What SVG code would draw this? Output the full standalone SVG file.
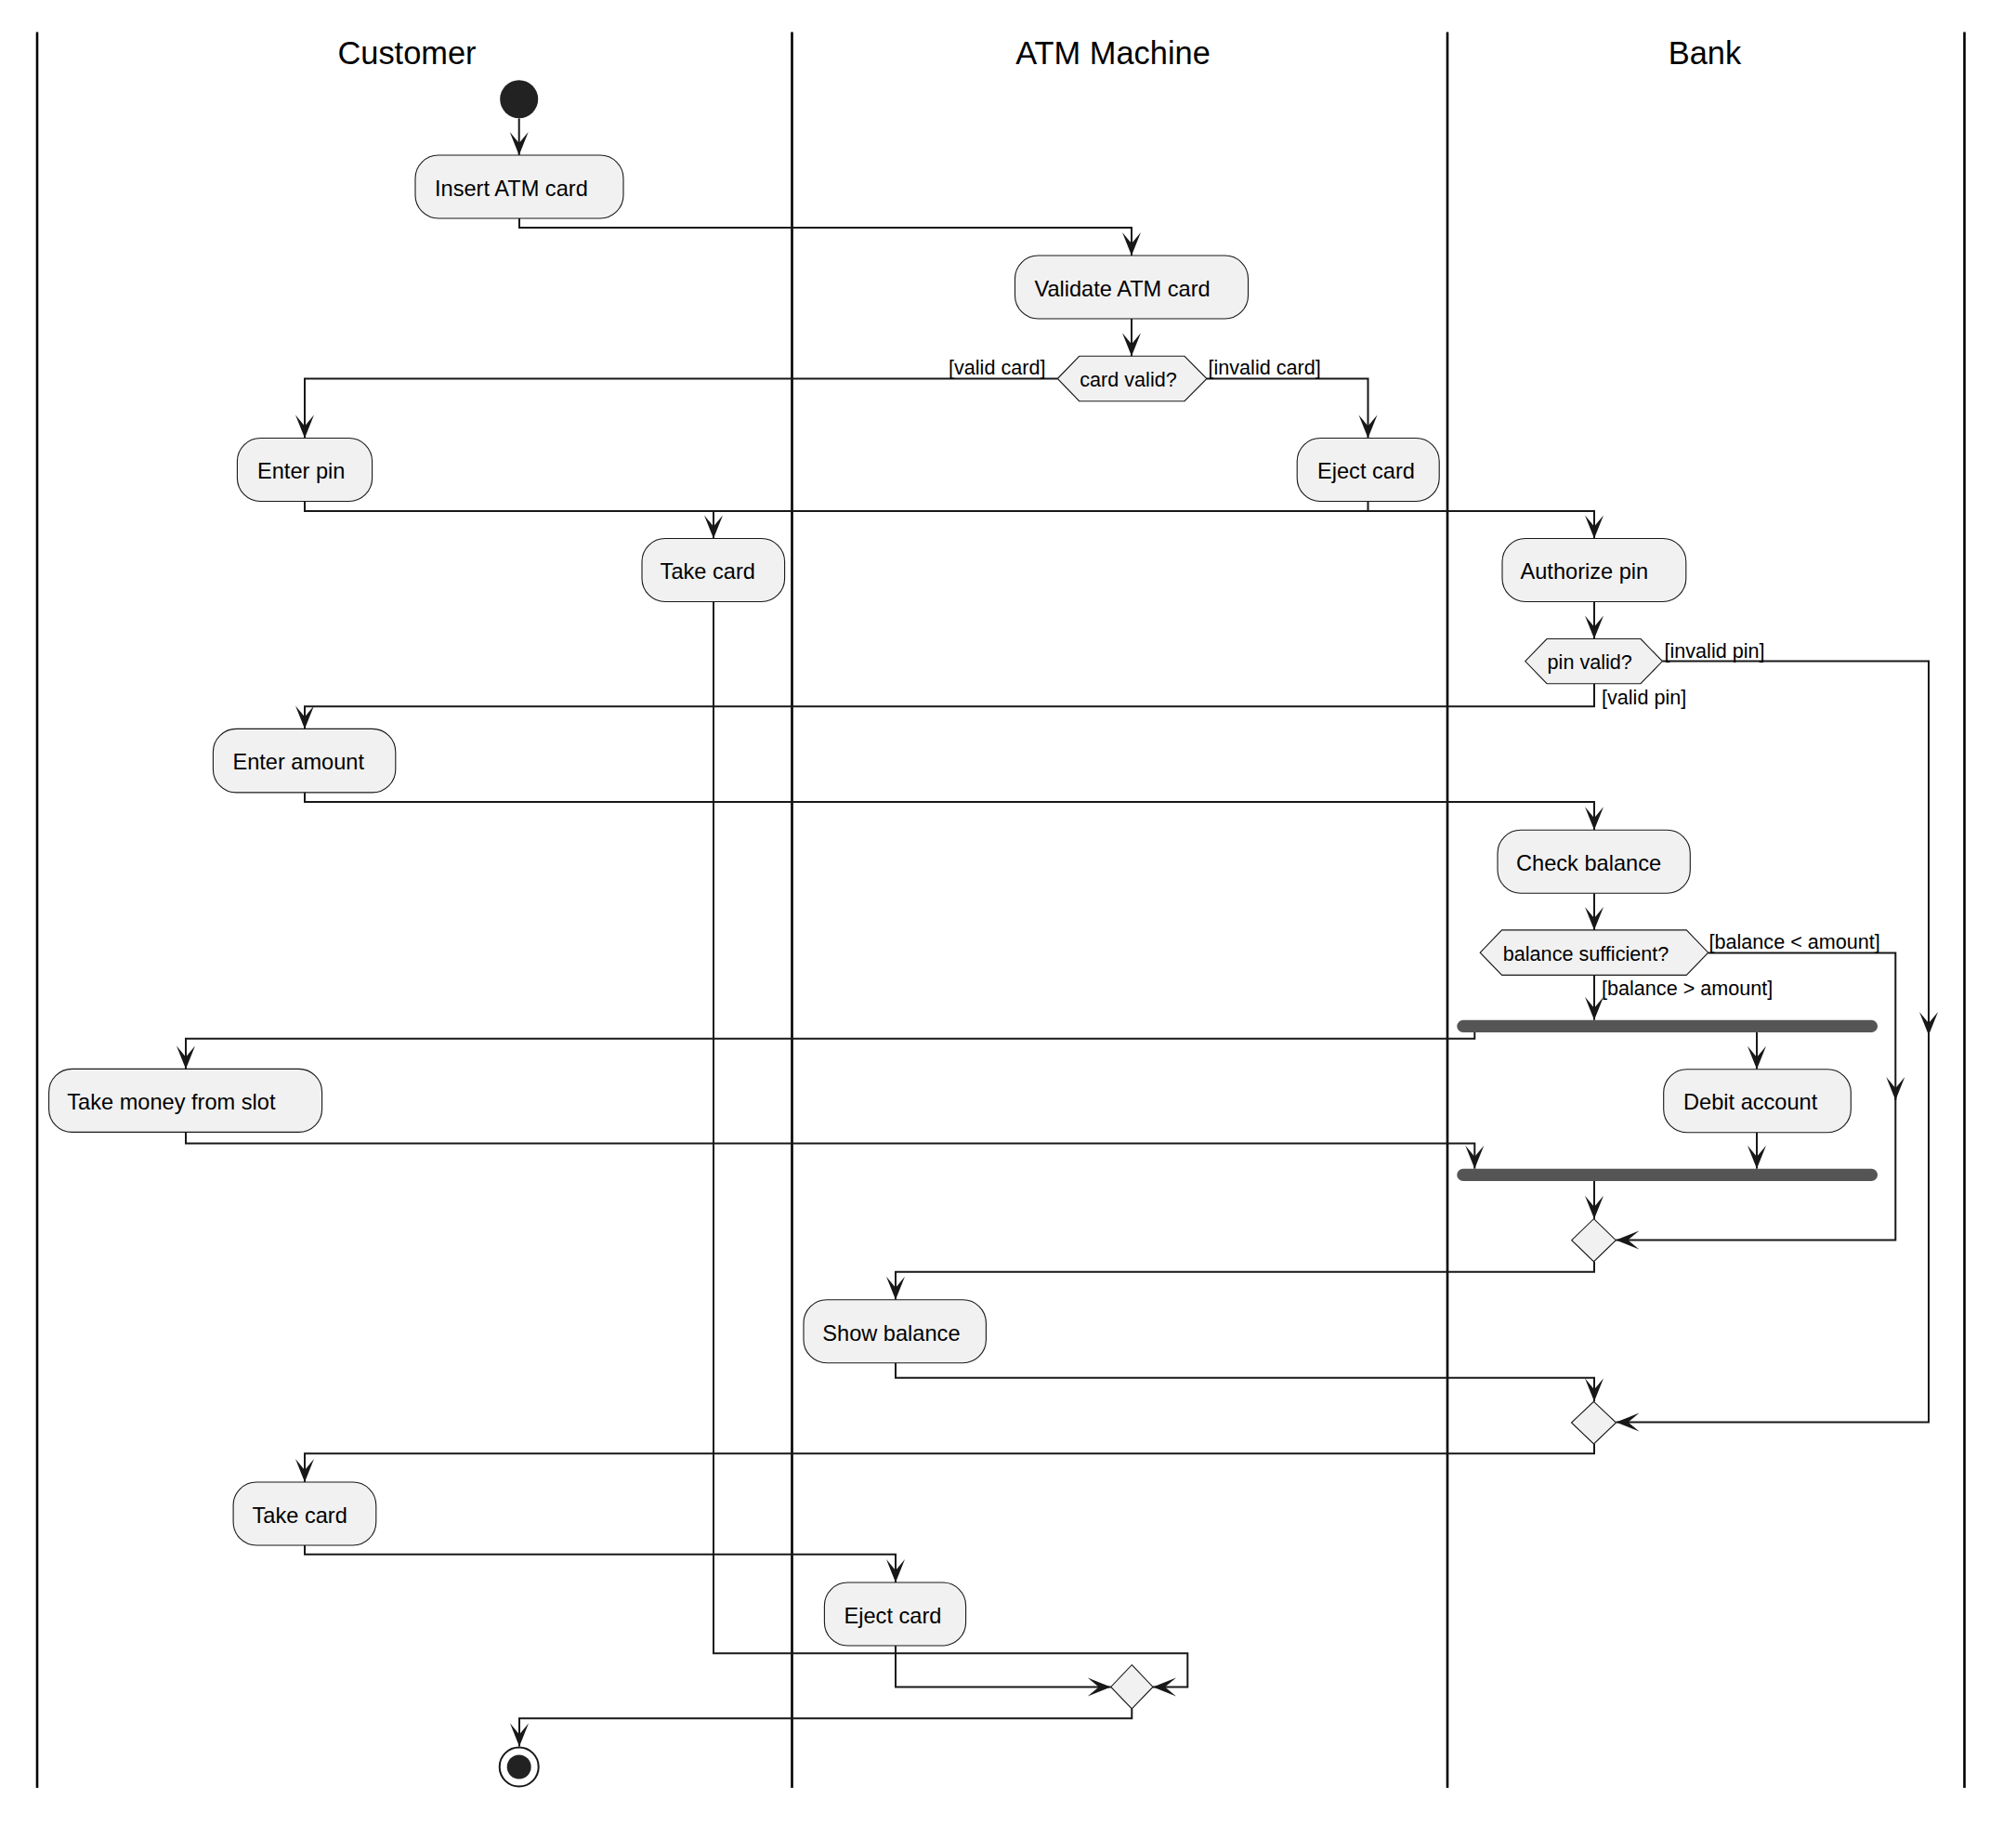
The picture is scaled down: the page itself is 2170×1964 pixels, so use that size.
<svg xmlns="http://www.w3.org/2000/svg" width="2170" height="1964" viewBox="0 0 2170 1964">
<style>
.lane{stroke:#000;stroke-width:2.6;fill:none}
.title{font-family:"Liberation Sans",Arial,sans-serif;font-size:34.4px;fill:#000;text-anchor:middle}
.act rect{fill:#F1F1F1;stroke:#181818;stroke-width:1.1}
.act text,.hex text{font-family:"Liberation Sans",Arial,sans-serif;font-size:23.6px;fill:#000}
.hex polygon,.merge polygon{fill:#F1F1F1;stroke:#181818;stroke-width:1.1}
.hex text{font-size:21.6px}
.lbl{font-family:"Liberation Sans",Arial,sans-serif;font-size:21.6px;fill:#000}
.bar{fill:#555555}
#connectors path{fill:none;stroke:#181818;stroke-width:2}
.arr{marker-end:url(#ah)}
</style>
<defs>
<marker id="ah" markerUnits="userSpaceOnUse" viewBox="-26 -11 27 22" refX="0" refY="0" markerWidth="27" markerHeight="22" orient="auto">
<path d="M0,0 L-25,-10 L-13,0 L-25,10 Z" fill="#181818"/>
</marker>
</defs>
<rect width="2170" height="1964" fill="#FFFFFF"/>

<g id="lanes">
<line class="lane" x1="40" y1="34.5" x2="40" y2="1924"/>
<line class="lane" x1="852.5" y1="34.5" x2="852.5" y2="1924"/>
<line class="lane" x1="1558" y1="34.5" x2="1558" y2="1924"/>
<line class="lane" x1="2114.5" y1="34.5" x2="2114.5" y2="1924"/>
<text class="title" x="438" y="69">Customer</text>
<text class="title" x="1198" y="69">ATM Machine</text>
<text class="title" x="1835" y="69">Bank</text>
</g>

<g id="connectors">
<path class="arr" d="M558.7,127.4 V167"/>
<path class="arr" d="M559,235 V245 H1218 V275"/>
<path class="arr" d="M1218,343 V383.3"/>
<path class="arr" d="M1138.3,407.5 H328 V471.5"/>
<path class="arr" d="M1299,407.5 H1472.5 V471.5"/>
<path class="arr" d="M328,539.5 V550 H1716 V579.5"/>
<path class="arr" d="M1472.5,539.5 V550 H768 V579.5"/>
<path class="arr" d="M1716,647.5 V687.5"/>
<path class="arr" d="M1716,735.7 V760.3 H328 V784.4"/>
<path class="arr" d="M1789.4,711.6 H2076 V1114"/>
<path class="arr" d="M2076,1110 V1530.6 H1739.5"/>
<path class="arr" d="M328,852.9 V863 H1716 V893.3"/>
<path class="arr" d="M1716,961.3 V1000.9"/>
<path class="arr" d="M1716,1049 V1097.7"/>
<path class="arr" d="M1838.7,1025.4 H2040.3 V1184"/>
<path class="arr" d="M2040.3,1180 V1334.5 H1739.3"/>
<path class="arr" d="M1587.3,1111 V1117.7 H200 V1150.4"/>
<path class="arr" d="M1891,1111 V1150.7"/>
<path class="arr" d="M200,1218.5 V1230.6 H1587.3 V1257.7"/>
<path class="arr" d="M1891,1218.5 V1257.7"/>
<path class="arr" d="M1716,1271 V1311.7"/>
<path class="arr" d="M1716,1357.7 V1368.7 H964 V1398.7"/>
<path class="arr" d="M964,1466.7 V1482.8 H1716 V1508.3"/>
<path class="arr" d="M1716,1554 V1564.3 H328 V1595"/>
<path class="arr" d="M328,1663 V1672.8 H964 V1703"/>
<path class="arr" d="M964,1771 V1815.4 H1195.7"/>
<path class="arr" d="M768,647.5 V1779.3 H1278.3 V1815.4 H1241"/>
<path class="arr" d="M1218.3,1839 V1849.3 H559 V1879.5"/>
</g>

<g id="start"><circle cx="558.7" cy="106.7" r="20.5" fill="#222222"/></g>
<g id="end"><circle cx="558.7" cy="1901.5" r="21" fill="none" stroke="#181818" stroke-width="2"/><circle cx="558.7" cy="1901.5" r="13" fill="#222222"/></g>

<g id="insert-card" class="act"><rect x="447" y="167" width="224" height="68" rx="25"/><text x="468" y="210.5">Insert ATM card</text></g>
<g id="validate-card" class="act"><rect x="1092.5" y="275" width="251" height="68" rx="25"/><text x="1113.4" y="318.5">Validate ATM card</text></g>
<g id="card-valid" class="hex"><polygon points="1138.3,407.5 1161.7,383.3 1275,383.3 1299,407.5 1275,431.7 1161.7,431.7"/><text x="1162.3" y="415.7">card valid?</text></g>
<g id="enter-pin" class="act"><rect x="255.4" y="471.5" width="145.2" height="68" rx="25"/><text x="277" y="515">Enter pin</text></g>
<g id="eject-card-1" class="act"><rect x="1396.2" y="471.5" width="153" height="68" rx="25"/><text x="1418" y="515">Eject card</text></g>
<g id="take-card-1" class="act"><rect x="691" y="579.5" width="153.6" height="68" rx="25"/><text x="710.6" y="623">Take card</text></g>
<g id="authorize-pin" class="act"><rect x="1617" y="579.5" width="197.8" height="68" rx="25"/><text x="1636.5" y="623">Authorize pin</text></g>
<g id="pin-valid" class="hex"><polygon points="1641.7,711.6 1665,687.5 1766,687.5 1789.4,711.6 1766,735.7 1665,735.7"/><text x="1665.6" y="720">pin valid?</text></g>
<g id="enter-amount" class="act"><rect x="229.4" y="784.4" width="196.4" height="68.5" rx="25"/><text x="250.4" y="828">Enter amount</text></g>
<g id="check-balance" class="act"><rect x="1612" y="893.3" width="207.3" height="68" rx="25"/><text x="1632" y="937">Check balance</text></g>
<g id="balance-sufficient" class="hex"><polygon points="1593.2,1025.2 1616.6,1000.9 1815.3,1000.9 1838.7,1025.2 1815.3,1049.4 1616.6,1049.4"/><text x="1617.8" y="1033.5">balance sufficient?</text></g>
<g id="fork"><rect class="bar" x="1568.3" y="1097.7" width="452.7" height="13.3" rx="6.6"/></g>
<g id="take-money" class="act"><rect x="52.6" y="1150.4" width="294" height="68" rx="25"/><text x="72.3" y="1194">Take money from slot</text></g>
<g id="debit-account" class="act"><rect x="1790.7" y="1150.7" width="201.6" height="68" rx="25"/><text x="1812" y="1194">Debit account</text></g>
<g id="join"><rect class="bar" x="1568.3" y="1257.7" width="452.7" height="13.3" rx="6.6"/></g>
<g id="merge-1" class="merge"><polygon points="1715.5,1311.7 1739.3,1334.7 1715.5,1357.7 1691.7,1334.7"/></g>
<g id="show-balance" class="act"><rect x="865" y="1398.7" width="196.4" height="68" rx="25"/><text x="885.3" y="1443">Show balance</text></g>
<g id="merge-2" class="merge"><polygon points="1715.5,1508.3 1739.5,1531 1715.5,1554 1691.5,1531"/></g>
<g id="take-card-2" class="act"><rect x="251.1" y="1595" width="153.7" height="68" rx="25"/><text x="271.5" y="1638.5">Take card</text></g>
<g id="eject-card-2" class="act"><rect x="887.4" y="1703" width="152.2" height="68" rx="25"/><text x="908.5" y="1746.5">Eject card</text></g>
<g id="merge-3" class="merge"><polygon points="1218.3,1791.7 1241,1815.4 1218.3,1839 1195.7,1815.4"/></g>

<g id="labels">
<text class="lbl" x="1021" y="403">[valid card]</text>
<text class="lbl" x="1300.5" y="403">[invalid card]</text>
<text class="lbl" x="1791.5" y="707.5">[invalid pin]</text>
<text class="lbl" x="1724" y="758">[valid pin]</text>
<text class="lbl" x="1839.5" y="1021">[balance &lt; amount]</text>
<text class="lbl" x="1724" y="1071.4">[balance &gt; amount]</text>
</g>
</svg>
